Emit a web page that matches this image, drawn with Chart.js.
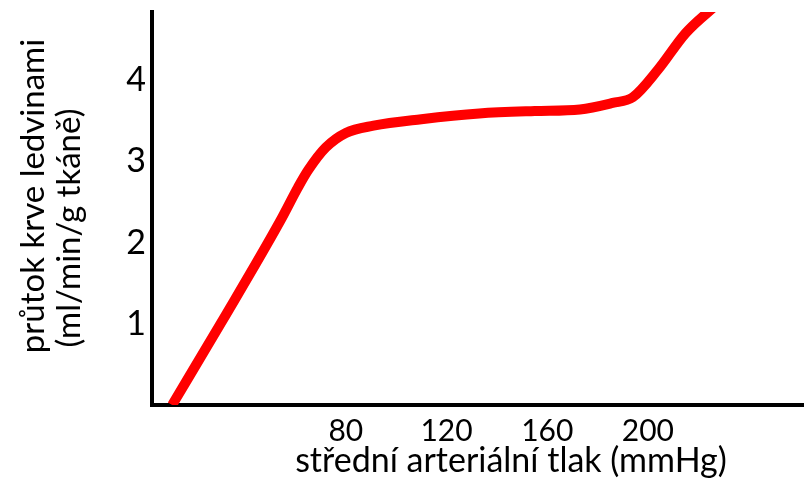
<!DOCTYPE html>
<html>
<head>
<meta charset="utf-8">
<script src="https://cdn.jsdelivr.net/npm/chart.js@4"></script>
<style>
  html, body { margin: 0; padding: 0; background: #fff; }
  #wrap { width: 804px; height: 480px; position: relative; }
</style>
</head>
<body>
<div id="wrap"><canvas id="chartPrutok"></canvas></div>
<script>
// tlak (mmHg) a průtok (ml/min/g)
const tlak = [11, 31, 54, 61, 65, 72, 80, 91, 110, 133, 155, 173, 186, 194, 204, 215, 228];
const prutok = [0, 1.04, 2.27, 2.68, 2.89, 3.17, 3.35, 3.44, 3.52, 3.59, 3.62, 3.64, 3.72, 3.79, 4.13, 4.58, 4.95];
const xTickValues = [80, 120, 160, 200];
const yTickValues = [1, 2, 3, 4];
const xTitle = 'střední arteriální tlak (mmHg)';
const yTitle = ['průtok krve ledvinami', '(ml/min/g tkáně)'];

const FONT = 'Lato, "Open Sans", sans-serif';

// popisky os kreslené ručně (posunuté jako v originálu)
const titlesPlugin = {
    id: 'axisTitles',
    afterDraw(chart) {
        const ctx = chart.ctx;
        ctx.save();
        ctx.fillStyle = '#000';
        ctx.font = '34px ' + FONT;
        ctx.textAlign = 'center';
        ctx.textBaseline = 'alphabetic';
        ctx.fillText(xTitle, 511, 472);

        ctx.font = '33px ' + FONT;
        ctx.textBaseline = 'middle';
        const lines = [[yTitle[0], 33, 196], [yTitle[1], 69, 228]];
        lines.forEach(([text, x, y]) => {
            ctx.save();
            ctx.translate(x, y);
            ctx.rotate(-Math.PI / 2);
            ctx.fillText(text, 0, 0);
            ctx.restore();
        });
        ctx.restore();
    }
};

const ctxPrutok = document.getElementById('chartPrutok');
new Chart(ctxPrutok, {
    type: 'line',
    data: {
        datasets: [{
            data: tlak.map((x, i) => ({ x: x, y: prutok[i] })),
            borderColor: '#ff0000',
            borderWidth: 10,
            pointRadius: 0,
            cubicInterpolationMode: 'monotone',
            fill: false
        }]
    },
    options: {
        responsive: true,
        maintainAspectRatio: false,
        animation: false,
        layout: { padding: { top: 12, right: 0, left: 0, bottom: 0 } },
        plugins: {
            legend: { display: false },
            tooltip: { enabled: false }
        },
        scales: {
            x: {
                type: 'linear',
                min: 3,
                max: 262,
                afterBuildTicks: function(axis) {
                    axis.ticks = xTickValues.map(v => ({ value: v }));
                },
                afterFit: function(axis) {
                    axis.height = 75;
                    axis.paddingLeft = 0;
                    axis.paddingRight = 0;
                },
                grid: { display: false, drawTicks: false },
                border: { display: true, color: '#000', width: 4 },
                ticks: {
                    color: '#000',
                    padding: 8,
                    maxRotation: 0,
                    autoSkip: false,
                    font: { family: FONT, size: 30 }
                }
            },
            y: {
                min: 0,
                max: 4.84,
                afterBuildTicks: function(axis) {
                    axis.ticks = yTickValues.map(v => ({ value: v }));
                },
                afterFit: function(axis) {
                    axis.width = 152;
                    axis.paddingTop = 0;
                    axis.paddingBottom = 0;
                },
                grid: { display: false, drawTicks: false },
                border: { display: true, color: '#000', width: 4 },
                ticks: {
                    color: '#000',
                    padding: 6,
                    font: { family: FONT, size: 34 }
                }
            }
        }
    },
    plugins: [titlesPlugin]
});
</script>
</body>
</html>
